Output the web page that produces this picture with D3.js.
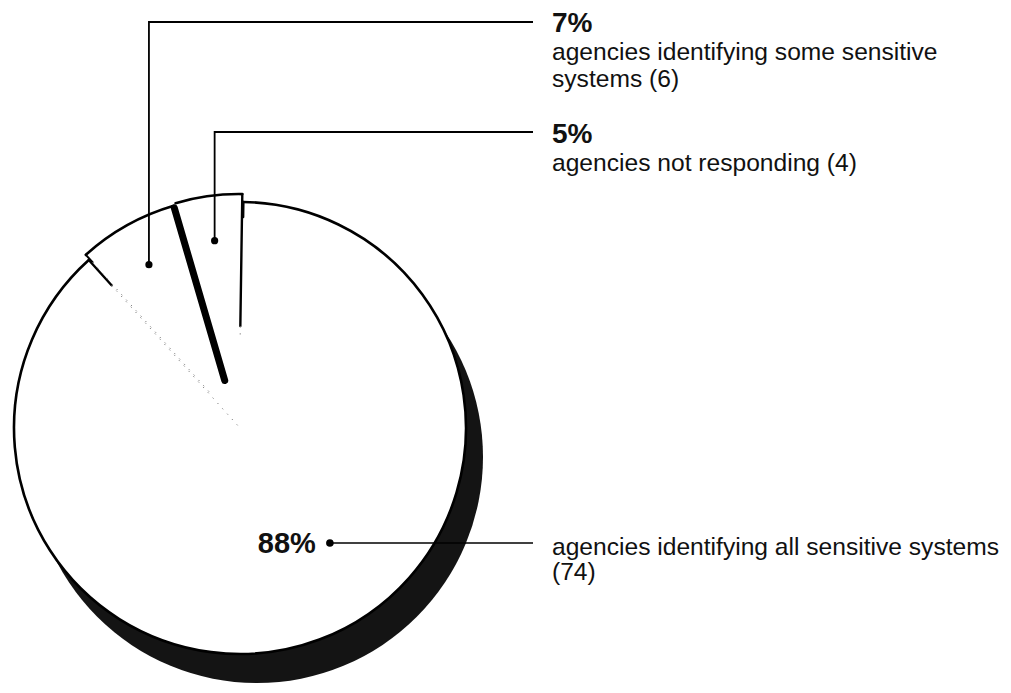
<!DOCTYPE html>
<html>
<head>
<meta charset="utf-8">
<script src="https://cdn.jsdelivr.net/npm/d3@7"></script>
<style>
  html, body { margin: 0; padding: 0; background: #fff; }
  svg { display: block; }
  text { font-family: "Liberation Sans", Arial, Helvetica, sans-serif; fill: #111; }
</style>
</head>
<body>
<svg id="chart" width="1011" height="693"></svg>
<script>
// ---- data ----
const categories = [
  "agencies identifying all sensitive systems",
  "agencies identifying some sensitive systems",
  "agencies not responding"
];
const counts = [74, 6, 4];
const percentLabels = ["88%", "7%", "5%"];
const descLines = [
  ["agencies identifying all sensitive systems", "(74)"],
  ["agencies identifying some sensitive", "systems (6)"],
  ["agencies not responding (4)"]
];

// ---- layout ----
const cx = 240, cy = 428, R = 226;
const shadowDx = 17, shadowDy = 29;
const deg = Math.PI / 180;
const bigEnd = 318 * deg;                       // where the big slice ends (clockwise from top)
const total = d3.sum(counts);
const a0 = bigEnd - 2 * Math.PI * counts[0] / total;
const explode = [0, 6, 8];

const svg = d3.select("#chart");
const g = svg.append("g").attr("transform", `translate(${cx},${cy})`);

const pie = d3.pie().sort(null).value(d => d).startAngle(a0).endAngle(a0 + 2 * Math.PI);
const arcs = pie(counts);
const arcFill = d3.arc().innerRadius(0).outerRadius(R);
const arcRim = d3.arc().innerRadius(R).outerRadius(R);
const polar = (a, r) => [r * Math.sin(a), -r * Math.cos(a)];
const fullDisc = d3.arc().innerRadius(0).outerRadius(R).startAngle(0).endAngle(2 * Math.PI)();

// shadow (3D thickness)
g.append("path")
  .attr("transform", `translate(${shadowDx},${shadowDy})`)
  .attr("d", fullDisc)
  .attr("fill", "#141414");
// white top face underlay (so gaps between exploded slices stay white)
g.append("path").attr("d", fullDisc).attr("fill", "#fff");

// slices
const off = arcs.map((d, i) => {
  const mid = (d.startAngle + d.endAngle) / 2;
  return polar(mid, explode[i]);
});

const sl = g.selectAll("g.slice").data(arcs).join("g")
  .attr("class", "slice")
  .attr("transform", (d, i) => `translate(${off[i][0]},${off[i][1]})`);

sl.append("path").attr("d", arcFill).attr("fill", "#fff");
sl.append("path").attr("d", d => arcRim({startAngle: d.startAngle, endAngle: d.endAngle}))
  .attr("fill", "none").attr("stroke", "#000").attr("stroke-width", 2.6).attr("stroke-linejoin", "round");

// radial edges
function edge(i, side, rOuter, rSolidEnd, rDotEnd, width) {
  const d = arcs[i];
  const a = side === "start" ? d.startAngle : d.endAngle;
  const o = off[i];
  const p1 = polar(a, rOuter), p2 = polar(a, rSolidEnd);
  g.append("line")
    .attr("x1", p1[0] + o[0]).attr("y1", p1[1] + o[1])
    .attr("x2", p2[0] + o[0]).attr("y2", p2[1] + o[1])
    .attr("stroke", "#000").attr("stroke-width", width).attr("stroke-linecap", "round");
  if (rDotEnd !== null) {
    const p3 = polar(a, rDotEnd);
    g.append("line")
      .attr("x1", p2[0] + o[0]).attr("y1", p2[1] + o[1])
      .attr("x2", p3[0] + o[0]).attr("y2", p3[1] + o[1])
      .attr("stroke", "#777").attr("stroke-width", 1).attr("stroke-dasharray", "1.2,6");
  }
}
edge(0, "end", R, R - 34, 0, 2.4);          // big slice left edge
edge(0, "start", R, R - 15, null, 2.4);     // big slice right edge stub
edge(1, "start", R, R - 10, 40, 2);         // 7% slice left edge
edge(1, "end", R - 2, 44, null, 7);         // 3D side of the exploded slice
edge(2, "end", R, R - 132, R - 145, 2.4);   // 5% slice right edge

// ---- labels ----
const textX = 552;
const leaderEndX = 533;

// 7% and 5% leaders (elbow lines)
const leaderY = [null, 22, 132];
const leaderR = [146, 181, 181];
[1, 2].forEach(i => {
  const d = arcs[i];
  const mid = (d.startAngle + d.endAngle) / 2;
  const p = polar(mid, leaderR[i]);
  const px = cx + p[0] + off[i][0], py = cy + p[1] + off[i][1];
  svg.append("path")
    .attr("d", d3.line()([[px, py], [px, leaderY[i]], [leaderEndX, leaderY[i]]]))
    .attr("fill", "none").attr("stroke", "#000").attr("stroke-width", 1.8);
  svg.append("circle").attr("cx", px).attr("cy", py).attr("r", 3.6).attr("fill", "#000");
});

// 88% leader
const bigLabelAngle = 142 * deg;
const pb = polar(bigLabelAngle, leaderR[0]);
const bx = cx + pb[0], by = cy + pb[1];
svg.append("line").attr("x1", bx).attr("y1", by).attr("x2", leaderEndX).attr("y2", by)
  .attr("stroke", "#000").attr("stroke-width", 1.6);
svg.append("circle").attr("cx", bx).attr("cy", by).attr("r", 3.8).attr("fill", "#000");
svg.append("text").attr("x", bx - 14).attr("y", by + 10)
  .attr("text-anchor", "end").attr("font-size", 29).attr("font-weight", "bold")
  .text(percentLabels[0]);
descLines[0].forEach((t, k) => {
  svg.append("text").attr("x", textX).attr("y", by + 12 + k * 25)
    .attr("font-size", 24.6).text(t);
});

// 7% / 5% text blocks
const pctBase = [null, 32, 143];
[1, 2].forEach(i => {
  svg.append("text").attr("x", textX).attr("y", pctBase[i])
    .attr("font-size", 28).attr("font-weight", "bold").text(percentLabels[i]);
  descLines[i].forEach((t, k) => {
    svg.append("text").attr("x", textX).attr("y", pctBase[i] + 28 + k * 27)
      .attr("font-size", 24.6).text(t);
  });
});
</script>
</body>
</html>
